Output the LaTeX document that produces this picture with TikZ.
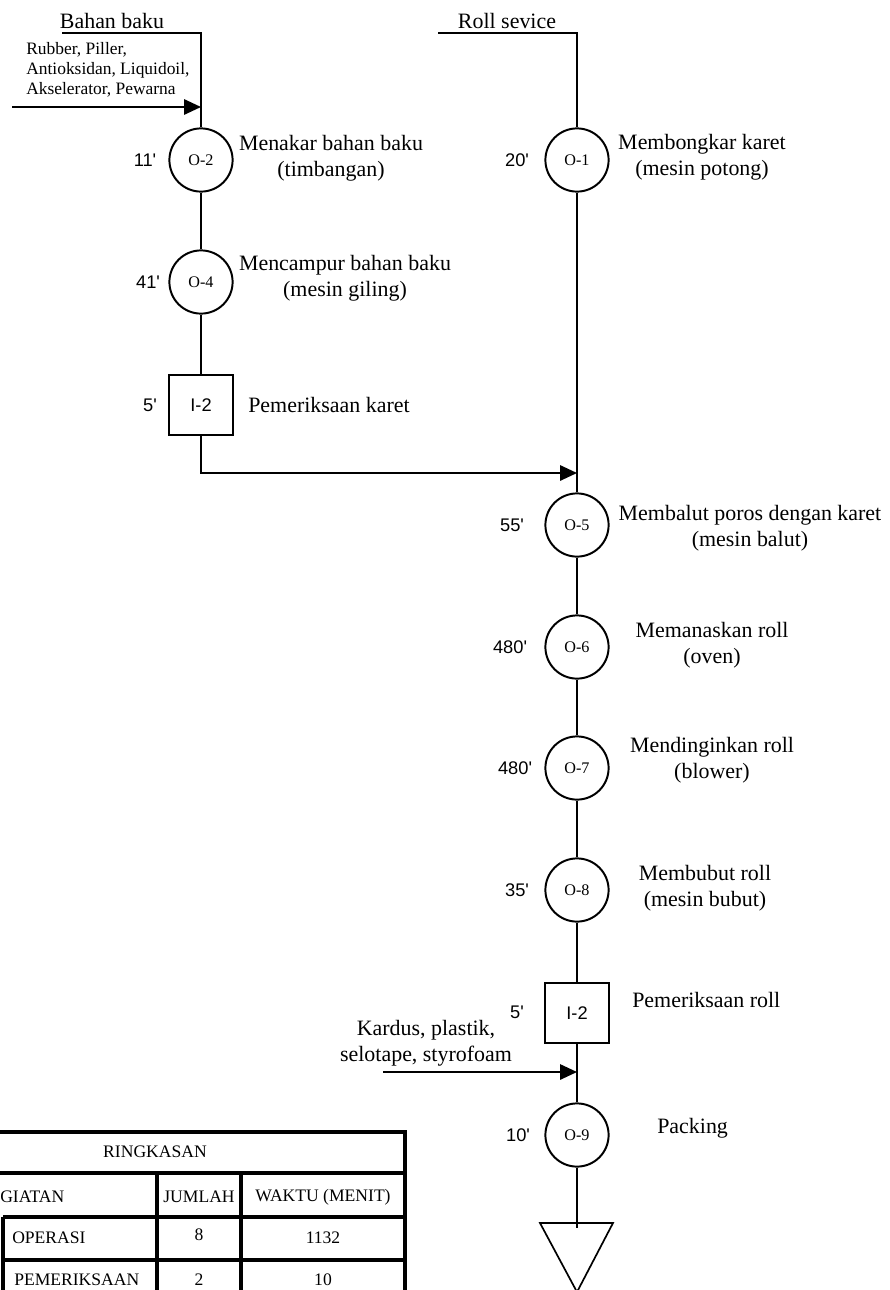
\documentclass[tikz,border=0pt]{standalone}
\usepackage{fontspec}
\setmainfont{Liberation Serif}
\newfontfamily\arialf{Liberation Sans}
\usetikzlibrary{arrows.meta}
\newcommand\labf{\fontsize{15.6}{18.5}\selectfont}
\newcommand\smlf{\fontsize{12.4}{14.2}\selectfont}
\newcommand\timf{\arialf\fontsize{13}{15}\selectfont}
\newcommand\tabf{\fontsize{12.5}{15}\selectfont}
\tikzset{
  op/.style  ={circle,draw,line width=1.4pt,minimum size=1.58cm,inner sep=0pt,font=\fontsize{11.5}{13}\selectfont},
  insp/.style={rectangle,draw,line width=1.4pt,minimum width=1.58cm,minimum height=1.52cm,inner sep=0pt,font=\arialf\fontsize{13}{15}\selectfont},
  lbl/.style ={align=center,inner sep=0pt,font=\labf},
  tm/.style  ={inner sep=0pt,font=\timf},
  tb/.style  ={inner sep=0pt,font=\tabf},
  flow/.style={line width=1.4pt},
  ar/.style  ={line width=1.4pt,-{Triangle[length=0.42cm,width=0.38cm]}},
  grid/.style={line width=2.8pt},
}
\begin{document}
\begin{tikzpicture}[x=0.025cm,y=-0.025cm]
  \useasboundingbox (0,0) rectangle (889,1290);
  % left branch: bahan baku
  \node[op]   (o2)  at (201,160){O-2};
  \node[op]   (o4)  at (201,282){O-4};
  \node[insp] (i2a) at (201,405){I-2};
  \coordinate (bb) at (62,33);
  \coordinate (bc) at (201,33);
  \coordinate (in1) at (12,107);
  \coordinate (j1) at (201,107);
  \draw[flow] (bb) -- (bc) -- (o2);
  \draw[flow] (o2) -- (o4) -- (i2a);
  \draw[ar] (in1) -- (j1);
  \node[lbl] (tbb) at (112,21){Bahan baku};
  \node[anchor=west,align=left,inner sep=0pt,font=\smlf] (tmat) at (26,70)
    {Rubber, Piller,\\Antioksidan, Liquidoil,\\Akselerator, Pewarna};
  \node[tm] (t2) at (145,160){11'};
  \node[tm] (t4) at (148,282){41'};
  \node[tm] (ti1) at (150,405){5'};
  \node[lbl] (l2) at (331,158){Menakar bahan baku\\(timbangan)};
  \node[lbl] (l4) at (345,278){Mencampur bahan baku\\(mesin giling)};
  \node[lbl,anchor=west] (li1) at (248,405){Pemeriksaan karet};
  % right branch: roll service
  \node[op]   (o1)  at (577,160){O-1};
  \node[op]   (o5)  at (577,525){O-5};
  \node[op]   (o6)  at (577,647){O-6};
  \node[op]   (o7)  at (577,768){O-7};
  \node[op]   (o8)  at (577,890){O-8};
  \node[insp] (i2b) at (577,1013){I-2};
  \node[op]   (o9)  at (577,1135){O-9};
  \coordinate (rs) at (438,33);
  \coordinate (rc) at (577,33);
  \coordinate (j2) at (577,473);
  \coordinate (kd) at (383,1072);
  \coordinate (j3) at (577,1072);
  \coordinate (tri) at (577,1228);
  \draw[flow] (rs) -- (rc) -- (o1);
  \draw[flow] (o1) -- (o5) -- (o6) -- (o7) -- (o8) -- (i2b) -- (o9) -- (tri);
  \draw[ar] (i2a) |- (j2);
  \draw[ar] (kd) -- (j3);
  \draw[line width=1.2pt] (540,1223) -- (613,1223) -- (577,1292) -- cycle; % storage
  \node[lbl] (trs) at (507,21){Roll sevice};
  \node[tm] (t1) at (517,160){20'};
  \node[tm] (t5) at (512,525){55'};
  \node[tm] (t6) at (510,647){480'};
  \node[tm] (t7) at (515,768){480'};
  \node[tm] (t8) at (517,890){35'};
  \node[tm] (ti2) at (517,1012){5'};
  \node[tm] (t9) at (518,1135){10'};
  \node[lbl] (l1) at (702,157){Membongkar karet\\(mesin potong)};
  \node[lbl] (l5) at (750,528){Membalut poros dengan karet\\(mesin balut)};
  \node[lbl] (l6) at (712,645){Memanaskan roll\\(oven)};
  \node[lbl] (l7) at (712,760){Mendinginkan roll\\(blower)};
  \node[lbl] (l8) at (705,888){Membubut roll\\(mesin bubut)};
  \node[lbl,anchor=west] (li2) at (632,1000){Pemeriksaan roll};
  \node[lbl] (lkd) at (426,1043){Kardus, plastik,\\selotape, styrofoam};
  \node[lbl,anchor=west] (l9) at (657,1128){Packing};
  % ringkasan table
  \draw[grid] (-5,1132) -- (405,1132);
  \draw[grid] (-5,1173) -- (405,1173);
  \draw[grid] (3,1217) -- (405,1217);
  \draw[grid] (3,1260) -- (405,1260);
  \draw[grid] (405,1130) -- (405,1300);
  \draw[grid] (157,1173) -- (157,1300);
  \draw[grid] (241,1173) -- (241,1300);
  \draw[grid] (3,1217) -- (3,1300);
  \node[tb] (h0) at (155,1152){RINGKASAN};
  \node[tb,anchor=west] (h1) at (0,1197){GIATAN};
  \node[tb] (h2) at (199,1197){JUMLAH};
  \node[tb] (h3) at (323,1197){WAKTU (MENIT)};
  \node[tb,anchor=west] (r1) at (12,1238){OPERASI};
  \node[tb] (r1n) at (199,1235){8};
  \node[tb] (r1w) at (323,1238){1132};
  \node[tb,anchor=west] (r2) at (14,1280){PEMERIKSAAN};
  \node[tb] (r2n) at (199,1280){2};
  \node[tb] (r2w) at (323,1280){10};
\end{tikzpicture}
\end{document}
